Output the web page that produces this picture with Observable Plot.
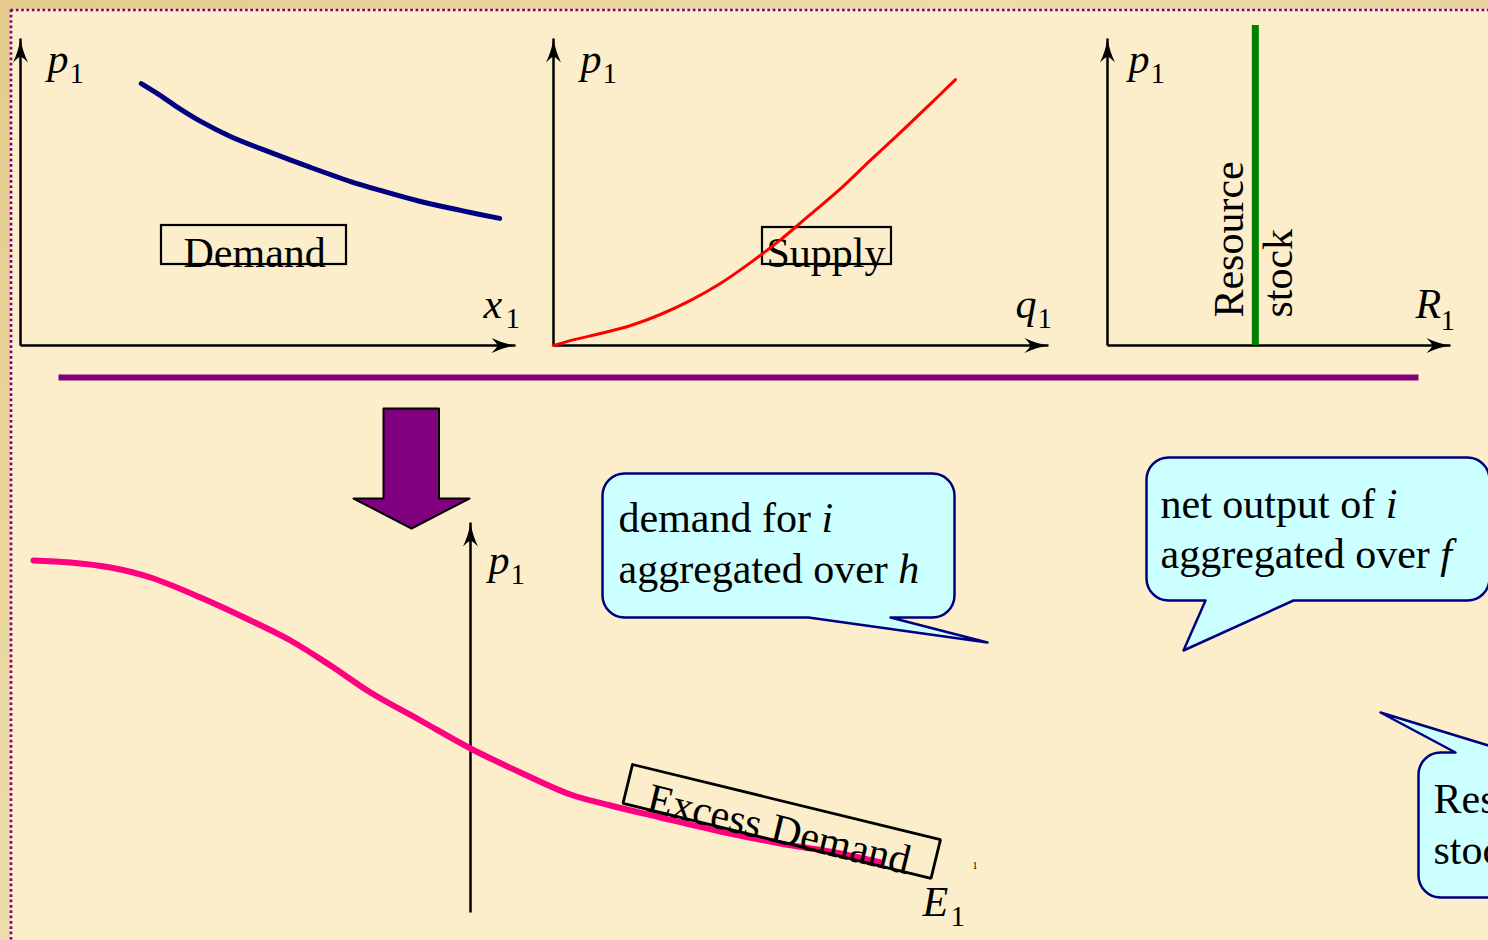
<!DOCTYPE html>
<html><head><meta charset="utf-8">
<script src="https://cdn.jsdelivr.net/npm/d3@7"></script>
<script src="https://cdn.jsdelivr.net/npm/@observablehq/plot@0.6"></script>
<style>
html,body{margin:0;padding:0;background:#E9D6A0;}
#root{position:relative;width:1488px;height:940px;overflow:hidden;background:linear-gradient(135deg,#E4CB8C,#EEDCAA 40%,#E6D09A 70%,#EAD7A4);}
#paper{position:absolute;left:10px;top:9px;right:0;bottom:0;background:#FCEECB;}
</style></head><body><div id="root"><div id="paper"></div></div>
<script>
// ---------------- data ----------------
// Demand panel (x1 quantity, p1 price), arbitrary units 0..100
const demandX = [24.4, 28.3, 32.3, 36.4, 42.4, 50.5, 58.6, 66.7, 72.7, 80.8, 88.9, 96.8];
const demandP = [85.3, 81.4, 77.0, 73.0, 68.1, 62.9, 58.0, 53.4, 50.5, 46.9, 44.0, 41.4];
// Supply panel (q1, p1)
const supplyQ = [0, 4.4, 9.5, 15.6, 21.6, 27.7, 33.7, 39.8, 45.9, 51.9, 58.0, 64.0, 70.1, 76.2, 81.2];
const supplyP = [0, 2.0, 3.9, 6.5, 10.1, 14.7, 20.2, 27.0, 34.5, 42.7, 51.1, 60.3, 69.4, 78.8, 86.6];
// Resource panel (R1): fixed stock
const resourceStock = 43.1;
const resourcePRange = [0, 104.2];
// Excess demand (E1, p1)
const excessE = [-43.7, -40, -36, -32, -27, -22, -18, -14, -10, -5, 0, 5, 10, 14, 19, 25, 31, 37, 41];
const excessP = [35.2, 35.0, 34.5, 33.5, 31.5, 29.2, 27.2, 24.7, 22.0, 19.2, 16.4, 14.0, 11.8, 10.7, 9.5, 8.1, 6.9, 5.9, 5.0];
// text
const priceSymbol = "p";
const subscript = "1";
const quantitySymbols = ["x", "q", "R"];
const excessSymbol = "E";
const panelNames = ["Demand", "Supply"];
const resourceWords = ["Resource", "stock"];
const excessName = "Excess Demand";
const bubble1Text = [["demand for ", "i"], ["aggregated over ", "h"]];
const bubble2Text = [["net output of ", "i"], ["aggregated over ", "f"]];
const bubble3Text = [["Resource", ""], ["stock", ""]];

// ---------------- helpers ----------------
const SERIF = "'Liberation Serif','Times New Roman',serif";
const root = document.getElementById("root");
const zip = (a, b) => a.map((v, i) => ({x: v, y: b[i]}));

const dartUp = {draw(c) {
  c.moveTo(0, 0);
  c.quadraticCurveTo(1.8, 12, 7.5, 24);
  c.quadraticCurveTo(2.5, 19, 0, 18);
  c.quadraticCurveTo(-2.5, 19, -7.5, 24);
  c.quadraticCurveTo(-1.8, 12, 0, 0);
  c.closePath();
}};
const dartRight = {draw(c) {
  c.moveTo(0, 0);
  c.quadraticCurveTo(-12, 1.8, -24, 7.5);
  c.quadraticCurveTo(-19, 2.5, -18, 0);
  c.quadraticCurveTo(-19, -2.5, -24, -7.5);
  c.quadraticCurveTo(-12, -1.8, 0, 0);
  c.closePath();
}};

function place(svg, left, top) {
  svg.style.position = "absolute";
  svg.style.left = left + "px";
  svg.style.top = top + "px";
  svg.style.maxWidth = "none";
  root.appendChild(svg);
}
function panel(cfg, marks) {
  const svg = Plot.plot({
    width: cfg.width, height: cfg.height,
    marginLeft: cfg.mL, marginRight: cfg.mR, marginTop: cfg.mT, marginBottom: cfg.mB,
    x: {domain: cfg.xd, axis: null}, y: {domain: cfg.yd, axis: null},
    style: {background: "transparent", overflow: "visible", fontFamily: SERIF},
    marks
  });
  place(svg, cfg.left, cfg.top);
}
function overlay(marks) {
  const svg = Plot.plot({
    width: 1488, height: 940, margin: 0,
    x: {domain: [0, 1488], range: [0, 1488], axis: null},
    y: {domain: [0, 940], range: [0, 940], axis: null},
    style: {background: "transparent", overflow: "visible", fontFamily: SERIF},
    marks
  });
  place(svg, 0, 0);
}
function axesMarks(xEnd, yEnd, withX = true) {
  const segs = [[0, 0, 0, yEnd]];
  if (withX) segs.push([0, 0, xEnd, 0]);
  const m = [
    Plot.link(segs, {x1: d => d[0], y1: d => d[1], x2: d => d[2], y2: d => d[3], stroke: "black", strokeWidth: 2.5}),
    Plot.dot([[0, yEnd]], {x: d => d[0], y: d => d[1], symbol: dartUp, r: 1, fill: "black", stroke: "none"})
  ];
  if (withX) m.push(Plot.dot([[xEnd, 0]], {x: d => d[0], y: d => d[1], symbol: dartRight, r: 1, fill: "black", stroke: "none"}));
  return m;
}
function symLabel(x, y, dx, main, sub, dySub) {
  return [
    Plot.text([main], {x: () => x, y: () => y, dx, text: d => d, fontSize: 42, fontStyle: "italic", fontFamily: SERIF, textAnchor: "start", lineAnchor: "bottom", fill: "black"}),
    Plot.text([sub], {x: () => x, y: () => y, dx: dx + (main === "R" ? 25 : main === "E" ? 28 : 22), dy: dySub, text: d => d, fontSize: 29, fontFamily: SERIF, textAnchor: "start", lineAnchor: "bottom", fill: "black"})
  ];
}
const ctx = document.createElement("canvas").getContext("2d");
ctx.font = "42px 'Liberation Serif'";
const tw = s => ctx.measureText(s).width;

function bubble(x0, y0, x1, y1, r, tail) {
  const pts = [];
  const arc = (cx, cy, a0, a1) => {
    for (let k = 0; k <= 8; k++) {
      const a = (a0 + (a1 - a0) * k / 8) * Math.PI / 180;
      pts.push([cx + r * Math.cos(a), cy + r * Math.sin(a)]);
    }
  };
  arc(x0 + r, y0 + r, 180, 270);
  if (tail.edge === "top") pts.push([tail.a, y0], tail.tip, [tail.b, y0]);
  arc(x1 - r, y0 + r, 270, 360);
  arc(x1 - r, y1 - r, 0, 90);
  if (tail.edge === "bottom") pts.push([tail.b, y1], tail.tip, [tail.a, y1]);
  arc(x0 + r, y1 - r, 90, 180);
  pts.push(pts[0]);
  return pts;
}
function bubbleMarks(pts, lines, x, y0, gap) {
  const m = [Plot.line(pts, {x: d => d[0], y: d => d[1], fill: "#CCFFFF", stroke: "#000080", strokeWidth: 2.5})];
  lines.forEach((ln, i) => {
    m.push(Plot.text([ln[0]], {x: () => x, y: () => y0 + i * gap, text: d => d, fontSize: 42, fontFamily: SERIF, textAnchor: "start", lineAnchor: "bottom", fill: "black"}));
    if (ln[1]) m.push(Plot.text([ln[1]], {x: () => x + tw(ln[0]), y: () => y0 + i * gap, text: d => d, fontSize: 42, fontStyle: "italic", fontFamily: SERIF, textAnchor: "start", lineAnchor: "bottom", fill: "black"}));
  });
  return m;
}

// ---------------- back overlay: separators, arrow, callouts, label boxes ----------------
const bigArrow = [[383, 408], [438.5, 408], [438.5, 498], [469, 498], [411, 528], [353, 498], [383, 498], [383, 408]];
overlay([
  Plot.link([[58, 377, 1418, 377]], {x1: d => d[0], y1: d => d[1], x2: d => d[2], y2: d => d[3], stroke: "#800080", strokeWidth: 6}),
  Plot.line(bigArrow, {x: d => d[0], y: d => d[1], fill: "#800080", stroke: "black", strokeWidth: 2}),
  Plot.rect([[161, 225, 346, 264], [762, 227, 891, 264]], {x1: d => d[0], y1: d => d[1], x2: d => d[2], y2: d => d[3], fill: "none", stroke: "black", strokeWidth: 2.2}),
  Plot.text([panelNames[0]], {x: () => 183, y: () => 266, text: d => d, fontSize: 42, fontFamily: SERIF, textAnchor: "start", lineAnchor: "bottom", fill: "black"}),
  Plot.text([panelNames[1]], {x: () => 766, y: () => 266, text: d => d, fontSize: 42, fontFamily: SERIF, textAnchor: "start", lineAnchor: "bottom", fill: "black"}),
  ...bubbleMarks(bubble(602, 473, 954, 617, 22, {edge: "bottom", a: 808, b: 890, tip: [987, 642]}), bubble1Text, 618, 531, 51),
  ...bubbleMarks(bubble(1146, 457, 1489, 600, 22, {edge: "bottom", a: 1205, b: 1293, tip: [1183, 650]}), bubble2Text, 1160, 517, 50),
  ...bubbleMarks(bubble(1418, 752, 1700, 897, 22, {edge: "top", a: 1455, b: 1511, tip: [1380, 712]}), bubble3Text, 1433, 812, 51)
]);

// ---------------- panels ----------------
const P1 = {left: 0, top: 20, width: 530, height: 340, mL: 20, mR: 15, mT: 18, mB: 15, xd: [0, 100], yd: [0, 100]};
const P2 = {left: 533, top: 20, width: 530, height: 340, mL: 20, mR: 15, mT: 18, mB: 15, xd: [0, 100], yd: [0, 100]};
const P3 = {left: 1087, top: 20, width: 401, height: 340, mL: 20, mR: 38, mT: 18, mB: 15, xd: [0, 100], yd: [0, 100]};
const P4 = {left: 0, top: 500, width: 1000, height: 440, mL: 0, mR: 0, mT: 22, mB: 28, xd: [-47, 53], yd: [0, 39]};

panel(P1, [
  ...axesMarks(100, 100),
  Plot.line(zip(demandX, demandP), {x: "x", y: "y", stroke: "#000080", strokeWidth: 5, curve: "catmull-rom"}),
  ...symLabel(0, 88.9, 27, priceSymbol, subscript, 10),
  ...symLabel(100, 8.8, -32, quantitySymbols[0], subscript, 10)
]);
panel(P2, [
  ...axesMarks(100, 100),
  Plot.line(zip(supplyQ, supplyP), {x: "x", y: "y", stroke: "#FF0000", strokeWidth: 3, curve: "catmull-rom"}),
  ...symLabel(0, 88.9, 27, priceSymbol, subscript, 10),
  ...symLabel(100, 8.8, -33, quantitySymbols[1], subscript, 10)
]);
panel(P3, [
  ...axesMarks(100, 100),
  Plot.ruleX([resourceStock], {y1: resourcePRange[0], y2: resourcePRange[1], stroke: "#008000", strokeWidth: 7}),
  Plot.text([resourceWords[0]], {x: () => 39.4, y: () => 9.1, text: d => d, rotate: -90, fontSize: 42, fontFamily: SERIF, textAnchor: "start", lineAnchor: "bottom", fill: "black"}),
  Plot.text([resourceWords[1]], {x: () => 53.9, y: () => 9.1, text: d => d, rotate: -90, fontSize: 42, fontFamily: SERIF, textAnchor: "start", lineAnchor: "bottom", fill: "black"}),
  ...symLabel(0, 88.9, 21, priceSymbol, subscript, 10),
  ...symLabel(100, 8.8, -35, quantitySymbols[2], subscript, 12)
]);
panel(P4, [
  ...axesMarks(0, 39, false),
  Plot.line(zip(excessE, excessP), {x: "x", y: "y", stroke: "#FF0080", strokeWidth: 6, curve: "catmull-rom"}),
  ...symLabel(0, 33.9, 18, priceSymbol, subscript, 10),
  ...symLabel(45.2, -0.3, 0, excessSymbol, subscript, 10),
  Plot.text([subscript], {x: () => 50.2, y: () => 4.4, text: d => d, fontSize: 10, fontFamily: SERIF, textAnchor: "start", lineAnchor: "bottom", fill: "black"})
]);

// ---------------- front overlay: rotated excess-demand label, dotted border ----------------
const ang = 13.7 * Math.PI / 180, u = [Math.cos(ang), Math.sin(ang)], n = [-Math.sin(ang), Math.cos(ang)];
const TL = [632, 764], BW = 317, BH = 40;
const boxPts = [TL, [TL[0] + BW * u[0], TL[1] + BW * u[1]], [TL[0] + BW * u[0] + BH * n[0], TL[1] + BW * u[1] + BH * n[1]], [TL[0] + BH * n[0], TL[1] + BH * n[1]], TL];
const textAt = [TL[0] + 23 * u[0] + 42 * n[0], TL[1] + 23 * u[1] + 42 * n[1]];
overlay([
  Plot.line(boxPts, {x: d => d[0], y: d => d[1], stroke: "black", strokeWidth: 2.8, strokeLinejoin: "miter"}),
  Plot.text([excessName], {x: () => textAt[0], y: () => textAt[1], rotate: 13.7, text: d => d, fontSize: 42, fontFamily: SERIF, textAnchor: "start", lineAnchor: "bottom", fill: "black"}),
  Plot.link([[10, 9.5, 1488, 9.5], [10.5, 9, 10.5, 940]], {x1: d => d[0], y1: d => d[1], x2: d => d[2], y2: d => d[3], stroke: "#800080", strokeWidth: 2.7, strokeDasharray: "2.7 2.63"})
]);
</script></body></html>
